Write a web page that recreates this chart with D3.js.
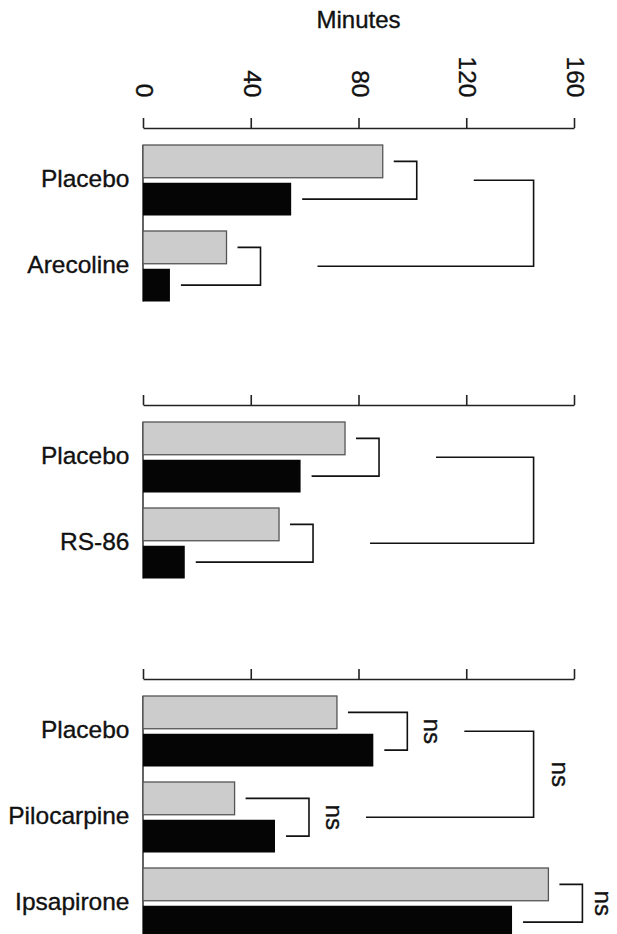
<!DOCTYPE html>
<html>
<head>
<meta charset="utf-8">
<script src="https://cdn.jsdelivr.net/npm/d3@7"></script>
<style>
    html, body { margin: 0; padding: 0; background: #fff; }
    svg { display: block; }
    text { font-family: "Liberation Sans", Arial, Helvetica, sans-serif; fill: #111; stroke: #111; stroke-width: 0.35; }
</style>
</head>
<body>
<svg id="chart" width="617" height="934"></svg>
<script>
"use strict";

// axis
var minuteTicks = [0, 40, 80, 120, 160];
var axisTitle = "Minutes";

// panel 1: arecoline
var arecolineGroups = ["Placebo", "Arecoline"];
var arecolineGrey = [89, 31];
var arecolineBlack = [55, 10];
var arecolinePairSig = ["", ""];
var arecolineGroupSig = "";

// panel 2: RS-86
var rs86Groups = ["Placebo", "RS-86"];
var rs86Grey = [75, 50.5];
var rs86Black = [58.5, 15.5];
var rs86PairSig = ["", ""];
var rs86GroupSig = "";

// panel 3: pilocarpine / ipsapirone
var pilocarpineGroups = ["Placebo", "Pilocarpine", "Ipsapirone"];
var pilocarpineGrey = [72, 34, 150.5];
var pilocarpineBlack = [85.5, 49, 137];
var pilocarpinePairSig = ["ns", "ns", "ns"];
var pilocarpineGroupSig = "ns";

var panels = [
    {groups: arecolineGroups, grey: arecolineGrey, black: arecolineBlack, pairSig: arecolinePairSig, groupSig: arecolineGroupSig},
    {groups: rs86Groups, grey: rs86Grey, black: rs86Black, pairSig: rs86PairSig, groupSig: rs86GroupSig},
    {groups: pilocarpineGroups, grey: pilocarpineGrey, black: pilocarpineBlack, pairSig: pilocarpinePairSig, groupSig: pilocarpineGroupSig}
];

// layout
var width = 617, height = 934;
var panelAxisY = [128, 405, 679];
var barStep = 86;       // distance from one group to the next
var groupGap = 15.5;    // white space between groups
var groupBracketAt = 145;  // minutes, where the long brackets stand
var sigSize = 24;

var svg = d3.select("#chart");
svg.append("rect").attr("width", width).attr("height", height).attr("fill", "#fff");

var x = d3.scaleLinear().domain([0, 160]).range([143, 574]);

// title
svg.append("text")
    .attr("x", (x.range()[0] + x.range()[1]) / 2)
    .attr("y", 28)
    .attr("text-anchor", "middle")
    .attr("font-size", 24)
    .text(axisTitle);

panels.forEach(function(p, i) {
    renderPanel(p, panelAxisY[i], i === 0);
});

// keep rotated "ns" inside the picture
function sigX(v) {
    return Math.min(v + 17, width - 0.92 * sigSize);
}

/**
 * draw one panel: axis, bars, labels and brackets
 */
function renderPanel(p, axisY, withLabels) {
    var g = svg.append("g");

    // axis on top
    var axis = d3.axisTop(x)
        .tickValues(minuteTicks)
        .tickSize(10)
        .tickSizeOuter(0)
        .tickFormat(withLabels ? d3.format("d") : function() { return ""; });

    var gAxis = g.append("g")
        .attr("transform", "translate(0," + axisY + ")")
        .call(axis);
    gAxis.select(".domain").attr("stroke", "#222").attr("stroke-width", 1.6);
    gAxis.selectAll(".tick line").attr("stroke", "#222").attr("stroke-width", 1.6);
    gAxis.selectAll(".tick text")
        .attr("y", 0)
        .attr("dy", null)
        .attr("fill", "#111")
        .attr("font-size", 24.5)
        .attr("font-family", "Liberation Sans, Arial, sans-serif")
        .attr("text-anchor", "end")
        .attr("transform", "translate(-7.5,-30.5) rotate(90)");

    // band scales
    var top = axisY + 17;
    var n = p.groups.length;
    var y = d3.scaleBand()
        .domain(p.groups)
        .range([top, top + n * barStep - groupGap])
        .paddingInner(groupGap / barStep)
        .paddingOuter(0);
    var sub = d3.scaleBand()
        .domain(["grey", "black"])
        .range([0, y.bandwidth()])
        .paddingInner(0.1325)
        .paddingOuter(0);

    var rows = p.groups.map(function(name, k) {
        return {name: name, grey: p.grey[k], black: p.black[k], sig: p.pairSig[k]};
    });

    // zero line
    g.append("line")
        .attr("x1", x(0)).attr("x2", x(0))
        .attr("y1", y(p.groups[0]))
        .attr("y2", y(p.groups[n - 1]) + y.bandwidth())
        .attr("stroke", "#222")
        .attr("stroke-width", 1.4);

    var gRow = g.selectAll(".row")
        .data(rows)
        .enter()
        .append("g")
        .attr("class", "row");

    gRow.append("rect")
        .attr("x", x(0))
        .attr("y", function(d) { return y(d.name) + sub("grey"); })
        .attr("width", function(d) { return x(d.grey) - x(0); })
        .attr("height", sub.bandwidth())
        .attr("fill", "#cccccc")
        .attr("stroke", "#555")
        .attr("stroke-width", 1.3);

    gRow.append("rect")
        .attr("x", x(0))
        .attr("y", function(d) { return y(d.name) + sub("black"); })
        .attr("width", function(d) { return x(d.black) - x(0); })
        .attr("height", sub.bandwidth())
        .attr("fill", "#050505");

    // category labels
    gRow.append("text")
        .attr("x", 129.5)
        .attr("y", function(d) { return y(d.name) + y.bandwidth() / 2 + 6.5; })
        .attr("text-anchor", "end")
        .attr("font-size", 24.5)
        .text(function(d) { return d.name; });

    // bracket between the two bars of a group
    var pairV = rows.map(function(d) { return x(Math.max(d.grey, d.black)) + 34; });

    gRow.append("path")
        .attr("d", function(d, k) {
            var yg = y(d.name) + sub("grey") + sub.bandwidth() / 2;
            var yb = y(d.name) + sub("black") + sub.bandwidth() / 2;
            return "M" + (x(d.grey) + 11) + "," + yg +
                "H" + pairV[k] + "V" + yb + "H" + (x(d.black) + 11);
        })
        .attr("fill", "none")
        .attr("stroke", "#111")
        .attr("stroke-width", 1.6);

    gRow.filter(function(d) { return d.sig !== ""; })
        .append("text")
        .attr("transform", function(d) {
            var k = p.groups.indexOf(d.name);
            var yg = y(d.name) + sub("grey") + sub.bandwidth() / 2;
            var yb = y(d.name) + sub("black") + sub.bandwidth() / 2;
            return "translate(" + sigX(pairV[k]) + "," + ((yg + yb) / 2) + ") rotate(90)";
        })
        .attr("text-anchor", "middle")
        .attr("font-size", sigSize)
        .text(function(d) { return d.sig; });

    // long bracket between first two groups
    var ya = y(p.groups[0]) + y.bandwidth() / 2;
    var yb2 = y(p.groups[1]) + y.bandwidth() / 2;
    var xv = x(groupBracketAt);
    g.append("path")
        .attr("d", "M" + (pairV[0] + 57) + "," + ya + "H" + xv + "V" + yb2 + "H" + (pairV[1] + 57))
        .attr("fill", "none")
        .attr("stroke", "#111")
        .attr("stroke-width", 1.6);

    if (p.groupSig !== "") {
        g.append("text")
            .attr("transform", "translate(" + (xv + 18) + "," + ((ya + yb2) / 2) + ") rotate(90)")
            .attr("text-anchor", "middle")
            .attr("font-size", sigSize)
            .text(p.groupSig);
    }
}
</script>
</body>
</html>
